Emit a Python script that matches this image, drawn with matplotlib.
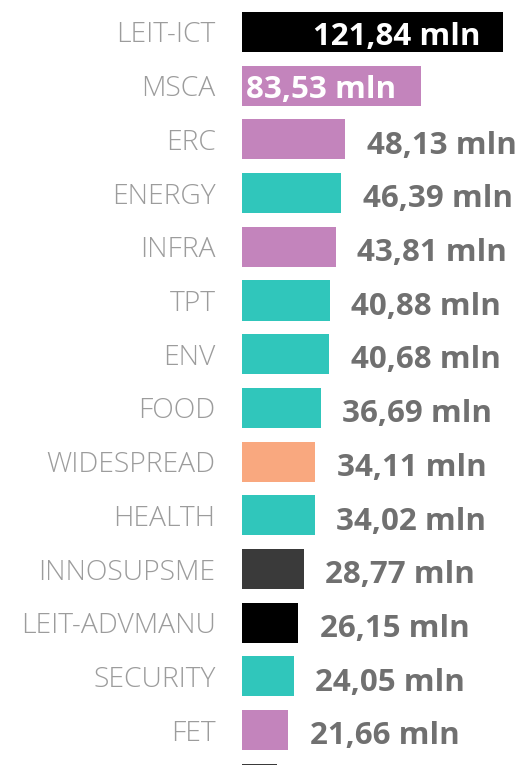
import matplotlib
matplotlib.use("Agg")
import matplotlib.pyplot as plt

categories = ["LEIT-ICT", "MSCA", "ERC", "ENERGY", "INFRA", "TPT", "ENV", "FOOD",
              "WIDESPREAD", "HEALTH", "INNOSUPSME", "LEIT-ADVMANU", "SECURITY", "FET", ""]
values = [121.84, 83.53, 48.13, 46.39, 43.81, 40.88, 40.68, 36.69,
          34.11, 34.02, 28.77, 26.15, 24.05, 21.66, 16.4]
groups = ["black", "pink", "pink", "teal", "pink", "teal", "teal", "teal",
          "orange", "teal", "dark", "black", "teal", "pink", "dark"]
palette = {"black": "#000000", "pink": "#C384BC", "teal": "#30C6BB",
           "orange": "#F9A87F", "dark": "#3A3A3A"}
inside = {"LEIT-ICT": "end", "MSCA": "start"}

W, H = 520, 765
fig = plt.figure(figsize=(W / 100, H / 100), dpi=100)
left_px = 242
ax = fig.add_axes([left_px / W, 0, 1 - left_px / W, 1])
px_per_unit = 2.142
row_px = 53.7
top_center = 32

ypos = list(range(len(categories)))
ax.barh(ypos, values, height=0.745, color=[palette[g] for g in groups])

ax.set_yticks(ypos)
ax.set_yticklabels(categories, fontfamily="Open Sans", fontweight="light",
                   fontsize=20.3, color="#9C9C9C")
ax.tick_params(axis="y", length=0, pad=19)
ax.set_xticks([])
for s in ax.spines.values():
    s.set_visible(False)

ax.set_xlim(0, (W - left_px) / px_per_unit)
ax.set_ylim((H - top_center) / row_px, -top_center / row_px)

for y, v, c in zip(ypos, values, categories):
    if not c:
        continue
    txt = f"{v:.2f}".replace(".", ",") + " mln"
    kw = dict(fontfamily="Open Sans", fontweight="bold", fontsize=22.5,
              va="center", textcoords="offset points")
    if inside.get(c) == "end":
        ax.annotate(txt, (v, y), xytext=(-16, -3.5), ha="right", color="white", **kw)
    elif inside.get(c) == "start":
        ax.annotate(txt, (0, y), xytext=(3, -3), ha="left", color="white", **kw)
    else:
        ax.annotate(txt, (v, y), xytext=(15.5, -4.5), ha="left", color="#707070", **kw)

fig.savefig("out.png", dpi=100)
